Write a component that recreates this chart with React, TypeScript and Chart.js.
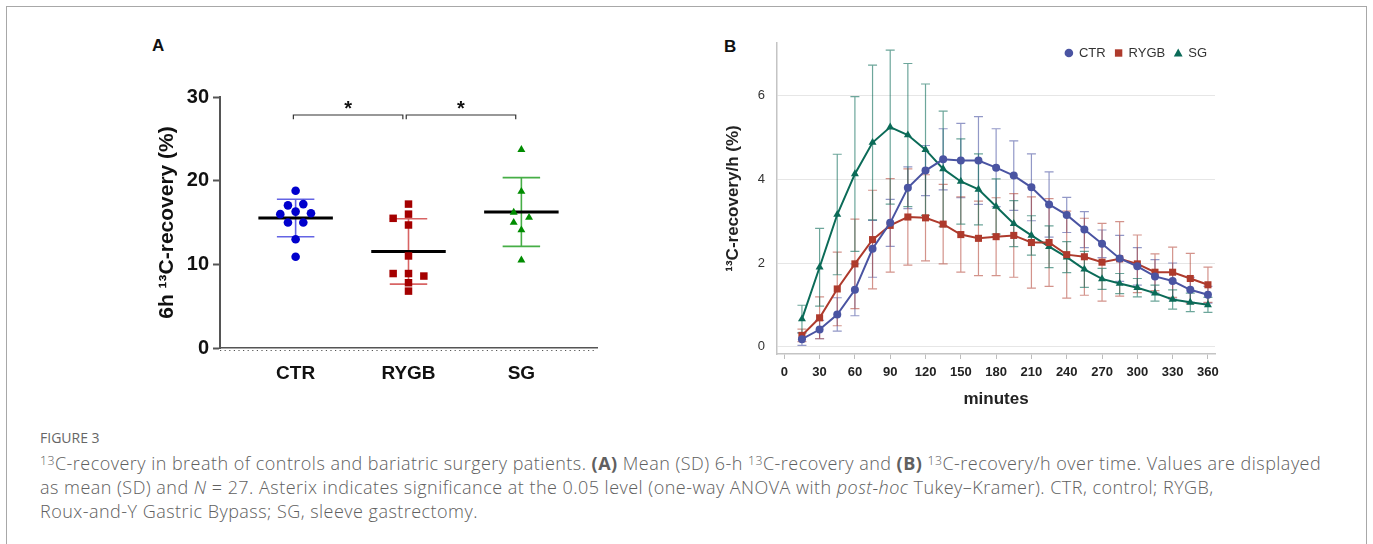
import React, { useEffect, useRef } from 'react';
import { Chart, registerables } from 'chart.js';

Chart.register(...registerables);

// ---------------- Panel A data ----------------
const groupNames = ['CTR', 'RYGB', 'SG'];
const ctrRecovery = [18.8, 17.05, 17.2, 16.0, 16.3, 16.1, 15.0, 15.0, 13.0, 10.9];
const ctrSpread = [0, -1, 1, -2, 0, 2, -1, 1, 0, 0];
const rygbRecovery = [17.2, 16.0, 15.5, 14.7, 11.0, 8.9, 8.9, 8.6, 7.8, 6.8];
const rygbSpread = [0, 0, -2, 0, 0, -2, 0, 2, 0, 0];
const sgRecovery = [23.7, 18.7, 16.2, 15.6, 15.0, 14.1, 10.5];
const sgSpread = [0, 0, -1, 1, -1, 0, 0];
const yTicksA = [0, 10, 20, 30];
const significantPairs = [
  [1, 2],
  [2, 3],
];
const significanceMark = '*';

// ---------------- Panel B data ----------------
const minutes = [15, 30, 45, 60, 75, 90, 105, 120, 135, 150, 165, 180, 195, 210, 225, 240, 255, 270, 285, 300, 315, 330, 345, 360];
const minuteTicks = [0, 30, 60, 90, 120, 150, 180, 210, 240, 270, 300, 330, 360];
const yTicksB = [0, 2, 4, 6];
const ctrMean = [0.18, 0.41, 0.77, 1.36, 2.34, 2.96, 3.8, 4.21, 4.48, 4.45, 4.45, 4.28, 4.09, 3.81, 3.4, 3.15, 2.8, 2.46, 2.11, 1.92, 1.68, 1.57, 1.36, 1.24];
const ctrSD = [0.15, 0.22, 0.4, 0.62, 0.68, 0.56, 0.5, 0.6, 0.73, 0.89, 1.05, 0.93, 0.83, 0.8, 0.78, 0.42, 0.43, 0.33, 0.55, 0.45, 0.4, 0.43, 0.3, 0.2];
const rygbMean = [0.27, 0.69, 1.38, 1.98, 2.56, 2.9, 3.1, 3.08, 2.93, 2.68, 2.59, 2.63, 2.66, 2.49, 2.49, 2.2, 2.15, 2.02, 2.1, 1.98, 1.78, 1.78, 1.63, 1.48];
const rygbSD = [0.15, 0.5, 0.88, 1.07, 1.18, 1.12, 1.15, 1.03, 0.95, 0.9, 0.89, 0.93, 1.0, 1.09, 1.05, 1.04, 0.92, 0.93, 0.89, 0.69, 0.44, 0.6, 0.6, 0.42];
const sgMean = [0.66, 1.9, 3.16, 4.13, 4.88, 5.25, 5.06, 4.71, 4.25, 3.95, 3.76, 3.35, 2.94, 2.66, 2.39, 2.14, 1.85, 1.62, 1.51, 1.41, 1.28, 1.13, 1.06, 1.0];
const sgSD = [0.33, 0.93, 1.44, 1.85, 1.85, 1.84, 1.71, 1.57, 1.38, 1.02, 0.85, 0.66, 0.55, 0.47, 0.5, 0.37, 0.43, 0.25, 0.24, 0.22, 0.19, 0.23, 0.22, 0.18];

const FONT = 'Arial, "Liberation Sans", sans-serif';

function drawMarker(ctx: CanvasRenderingContext2D, style: string, x: number, y: number, color: string) {
  ctx.fillStyle = color;
  ctx.beginPath();
  if (style === 'circle') {
    ctx.arc(x, y, 4.3, 0, Math.PI * 2);
  } else if (style === 'rect') {
    ctx.rect(x - 3.7, y - 3.7, 7.4, 7.4);
  } else {
    ctx.moveTo(x, y - 4.4);
    ctx.lineTo(x + 4.4, y + 3.4);
    ctx.lineTo(x - 4.4, y + 3.4);
    ctx.closePath();
  }
  ctx.fill();
}

function PanelA() {
  const ref = useRef<HTMLCanvasElement>(null);
  useEffect(() => {
    if (!ref.current) return;
    const jitterStep = 0.068;
    const groups = [
      { values: ctrRecovery, spread: ctrSpread, color: '#0000cd', sdColor: '#6464e4', style: 'circle', radius: 4.3 },
      { values: rygbRecovery, spread: rygbSpread, color: '#a40000', sdColor: '#d86464', style: 'rect', radius: 5.3 },
      { values: sgRecovery, spread: sgSpread, color: '#008c00', sdColor: '#46ae46', style: 'triangle', radius: 4.6 },
    ];
    const datasets = groups.map((g, gi) => ({
      label: groupNames[gi],
      data: g.values.map((v, i) => ({ x: gi + 1 + g.spread[i] * jitterStep, y: v })),
      pointStyle: g.style,
      pointRadius: g.radius,
      backgroundColor: g.color,
      borderColor: g.color,
      borderWidth: 0,
    }));

    const statsPlugin = {
      id: 'statsA',
      beforeDatasetsDraw(chart: any) {
        const { ctx } = chart;
        const xs = chart.scales.x;
        const ys = chart.scales.y;
        groups.forEach((g, gi) => {
          const n = g.values.length;
          const mean = g.values.reduce((a, b) => a + b, 0) / n;
          const sd = Math.sqrt(g.values.reduce((a, b) => a + (b - mean) * (b - mean), 0) / (n - 1));
          const cx = gi + 1;
          ctx.save();
          ctx.strokeStyle = g.sdColor;
          ctx.lineWidth = 1.6;
          const px = xs.getPixelForValue(cx);
          const yt = ys.getPixelForValue(mean + sd);
          const yb = ys.getPixelForValue(mean - sd);
          ctx.beginPath();
          ctx.moveTo(px, yt);
          ctx.lineTo(px, yb);
          ctx.moveTo(xs.getPixelForValue(cx - 0.166), yt);
          ctx.lineTo(xs.getPixelForValue(cx + 0.166), yt);
          ctx.moveTo(xs.getPixelForValue(cx - 0.166), yb);
          ctx.lineTo(xs.getPixelForValue(cx + 0.166), yb);
          ctx.stroke();
          ctx.strokeStyle = '#000';
          ctx.lineWidth = 3;
          const ym = ys.getPixelForValue(mean);
          ctx.beginPath();
          ctx.moveTo(xs.getPixelForValue(cx - 0.33), ym);
          ctx.lineTo(xs.getPixelForValue(cx + 0.33), ym);
          ctx.stroke();
          ctx.restore();
        });
      },
      afterDraw(chart: any) {
        const { ctx, chartArea } = chart;
        const xs = chart.scales.x;
        const ys = chart.scales.y;
        ctx.save();
        ctx.strokeStyle = '#555';
        ctx.lineWidth = 1.2;
        ctx.setLineDash([1.2, 3.4]);
        ctx.beginPath();
        ctx.moveTo(chartArea.left, chartArea.bottom + 2.5);
        ctx.lineTo(chartArea.right, chartArea.bottom + 2.5);
        ctx.stroke();
        ctx.setLineDash([]);
        ctx.strokeStyle = '#333';
        ctx.lineWidth = 1.2;
        ctx.fillStyle = '#111';
        ctx.font = `bold 20px ${FONT}`;
        ctx.textAlign = 'center';
        ctx.textBaseline = 'middle';
        significantPairs.forEach(([a, b]) => {
          const x1 = xs.getPixelForValue(a - 0.02);
          const x2 = xs.getPixelForValue(b - 0.05);
          const yTop = ys.getPixelForValue(27.85);
          const yLeg = ys.getPixelForValue(27.35);
          ctx.beginPath();
          ctx.moveTo(x1, yLeg);
          ctx.lineTo(x1, yTop);
          ctx.lineTo(x2, yTop);
          ctx.lineTo(x2, yLeg);
          ctx.stroke();
          ctx.fillText(significanceMark, (x1 + x2) / 2, ys.getPixelForValue(28.55));
        });
        ctx.restore();
      },
    };

    const chart = new Chart(ref.current, {
      type: 'scatter',
      data: { datasets: datasets as any },
      options: {
        animation: false,
        responsive: false,
        maintainAspectRatio: false,
        layout: { padding: { top: 67, right: 13, bottom: 0, left: 0 } },
        plugins: { legend: { display: false }, tooltip: { enabled: false } },
        scales: {
          x: {
            type: 'linear',
            min: 0.33,
            max: 3.67,
            afterBuildTicks: (s: any) => {
              s.ticks = groupNames.map((_, i) => ({ value: i + 1 }));
            },
            afterFit: (s: any) => {
              s.height = 52;
              s.paddingLeft = 0;
              s.paddingRight = 0;
            },
            grid: { display: false },
            border: { display: true, color: '#555', width: 1.6 },
            ticks: {
              autoSkip: false,
              maxRotation: 0,
              padding: 6,
              color: '#111',
              font: { family: FONT, size: 19, weight: 'bold' },
              callback: (v: any) => groupNames[Number(v) - 1] ?? '',
            },
          },
          y: {
            min: 0,
            max: 30,
            afterBuildTicks: (s: any) => {
              s.ticks = yTicksA.map((v) => ({ value: v }));
            },
            afterFit: (s: any) => {
              s.width = 80;
              s.paddingTop = 0;
              s.paddingBottom = 0;
            },
            grid: { drawOnChartArea: false, drawTicks: true, tickLength: 7, tickColor: '#555', tickWidth: 2 },
            border: { color: '#555', width: 2 },
            ticks: { padding: 4, color: '#111', font: { family: FONT, size: 20, weight: 'bold' } },
            title: {
              display: true,
              text: '6h ¹³C-recovery (%)',
              color: '#111',
              font: { family: FONT, size: 21, weight: 'bold' },
              padding: { top: 15, bottom: 0 },
            },
          },
        },
      } as any,
      plugins: [statsPlugin],
    });
    return () => chart.destroy();
  }, []);
  return <canvas ref={ref} width={470} height={370} style={{ position: 'absolute', left: 140, top: 30, width: 470, height: 370 }} />;
}

function PanelB() {
  const ref = useRef<HTMLCanvasElement>(null);
  useEffect(() => {
    if (!ref.current) return;
    const series = [
      { label: 'CTR', mean: ctrMean, sd: ctrSD, color: '#4a54a2', err: 'rgba(74,84,162,0.6)', style: 'circle', radius: 4 },
      { label: 'RYGB', mean: rygbMean, sd: rygbSD, color: '#ae3a2c', err: 'rgba(174,58,44,0.55)', style: 'rect', radius: 5 },
      { label: 'SG', mean: sgMean, sd: sgSD, color: '#0b6b58', err: 'rgba(11,107,88,0.6)', style: 'triangle', radius: 4.6 },
    ];
    const datasets = series.map((s) => ({
      label: s.label,
      data: s.mean.map((y, i) => ({ x: minutes[i], y })),
      sd: s.sd,
      errColor: s.err,
      borderColor: s.color,
      backgroundColor: s.color,
      pointBackgroundColor: s.color,
      pointBorderColor: s.color,
      pointBorderWidth: 0,
      pointStyle: s.style,
      pointRadius: s.radius,
      borderWidth: 2,
      tension: 0,
      fill: false,
    }));

    const errorPlugin = {
      id: 'errorBarsB',
      beforeDatasetsDraw(chart: any) {
        const { ctx } = chart;
        const ys = chart.scales.y;
        chart.data.datasets.forEach((ds: any, di: number) => {
          const meta = chart.getDatasetMeta(di);
          ctx.save();
          ctx.strokeStyle = ds.errColor;
          ctx.lineWidth = 1.2;
          meta.data.forEach((pt: any, j: number) => {
            const m = ds.data[j].y;
            const sd = ds.sd[j];
            const yt = ys.getPixelForValue(m + sd);
            const yb = ys.getPixelForValue(m - sd);
            ctx.beginPath();
            ctx.moveTo(pt.x, yt);
            ctx.lineTo(pt.x, yb);
            ctx.moveTo(pt.x - 4.5, yt);
            ctx.lineTo(pt.x + 4.5, yt);
            ctx.moveTo(pt.x - 4.5, yb);
            ctx.lineTo(pt.x + 4.5, yb);
            ctx.stroke();
          });
          ctx.restore();
        });
      },
      afterDraw(chart: any) {
        const { ctx, chartArea } = chart;
        ctx.save();
        ctx.font = `13px ${FONT}`;
        ctx.textBaseline = 'middle';
        ctx.textAlign = 'left';
        const y = chartArea.top + 10;
        let xEnd = chartArea.right - 8;
        const dsList = chart.data.datasets;
        for (let i = dsList.length - 1; i >= 0; i--) {
          const ds = dsList[i];
          const w = ctx.measureText(ds.label).width;
          const textX = xEnd - w;
          ctx.fillStyle = '#333';
          ctx.fillText(ds.label, textX, y);
          const mx = textX - 10;
          drawMarker(ctx, ds.pointStyle, mx, y, ds.backgroundColor);
          xEnd = mx - 13;
        }
        ctx.restore();
      },
    };

    const chart = new Chart(ref.current, {
      type: 'line',
      data: { datasets: datasets as any },
      options: {
        animation: false,
        responsive: false,
        maintainAspectRatio: false,
        layout: { padding: { top: 13, right: 10, bottom: 0, left: 0 } },
        plugins: {
          legend: { display: false },
          tooltip: { enabled: false },
        },
        scales: {
          x: {
            type: 'linear',
            min: -6.2,
            max: 366,
            afterBuildTicks: (s: any) => {
              s.ticks = minuteTicks.map((v) => ({ value: v }));
            },
            afterFit: (s: any) => {
              s.height = 58;
              s.paddingLeft = 0;
              s.paddingRight = 0;
            },
            grid: { drawOnChartArea: false, drawTicks: true, tickLength: 5, color: '#bdbdbd' },
            border: { color: '#c4c4c4', width: 1.5 },
            ticks: { autoSkip: false, maxRotation: 0, padding: 6, color: '#222', font: { family: FONT, size: 13, weight: 'bold' } },
            title: {
              display: true,
              text: 'minutes',
              color: '#222',
              font: { family: FONT, size: 17, weight: 'bold' },
              padding: { top: 4, bottom: 2 },
            },
          },
          y: {
            min: -0.175,
            max: 7.26,
            afterBuildTicks: (s: any) => {
              s.ticks = yTicksB.map((v) => ({ value: v }));
            },
            afterFit: (s: any) => {
              s.width = 57;
              s.paddingTop = 0;
              s.paddingBottom = 0;
            },
            grid: { color: '#e6e6e6', drawTicks: false },
            border: { color: '#c4c4c4', width: 1.5 },
            ticks: { padding: 12, color: '#333', font: { family: FONT, size: 13 } },
            title: {
              display: true,
              text: '¹³C-recovery/h (%)',
              color: '#222',
              font: { family: FONT, size: 17, weight: 'bold' },
              padding: { top: 3, bottom: 0 },
            },
          },
        },
      } as any,
      plugins: [errorPlugin],
    });
    return () => chart.destroy();
  }, []);
  return <canvas ref={ref} width={505} height={382} style={{ position: 'absolute', left: 720, top: 30, width: 505, height: 382 }} />;
}

const sup: React.CSSProperties = { fontSize: '0.68em', position: 'relative', top: '-0.45em', verticalAlign: 'baseline' };

export default function App() {
  const capFont = '"Open Sans", "Noto Sans", sans-serif';
  const line: React.CSSProperties = { whiteSpace: 'nowrap', height: 24, lineHeight: '24px' };
  return (
    <div style={{ position: 'absolute', left: 0, top: 0, width: 1373, height: 544, overflow: 'hidden', background: '#fff' }}>
      <div style={{ position: 'absolute', left: 6, top: 6, width: 1361, height: 600, border: '1.5px solid #a8a8a8', boxSizing: 'border-box' }} />
      <div style={{ position: 'absolute', left: 152, top: 36, font: `bold 17px ${FONT}`, color: '#111' }}>A</div>
      <div style={{ position: 'absolute', left: 724, top: 37, font: `bold 17px ${FONT}`, color: '#111' }}>B</div>
      <PanelA />
      <PanelB />
      <div style={{ position: 'absolute', left: 40, top: 427, fontFamily: capFont, color: '#606060' }}>
        <div style={{ fontSize: 14, height: 24, lineHeight: '22px', color: '#666' }}>FIGURE 3</div>
        <div style={{ fontSize: 18, fontWeight: 300, letterSpacing: '0.47px' }}>
          <div style={line}>
            <span style={sup}>13</span>C-recovery in breath of controls and bariatric surgery patients. <b style={{ fontWeight: 700 }}>(A)</b> Mean (SD) 6-h{' '}
            <span style={sup}>13</span>C-recovery and <b style={{ fontWeight: 700 }}>(B)</b> <span style={sup}>13</span>C-recovery/h over time. Values are displayed
          </div>
          <div style={line}>
            as mean (SD) and <i>N</i> = 27. Asterix indicates significance at the 0.05 level (one-way ANOVA with <i>post-hoc</i> Tukey–Kramer). CTR, control; RYGB,
          </div>
          <div style={line}>Roux-and-Y Gastric Bypass; SG, sleeve gastrectomy.</div>
        </div>
      </div>
    </div>
  );
}
